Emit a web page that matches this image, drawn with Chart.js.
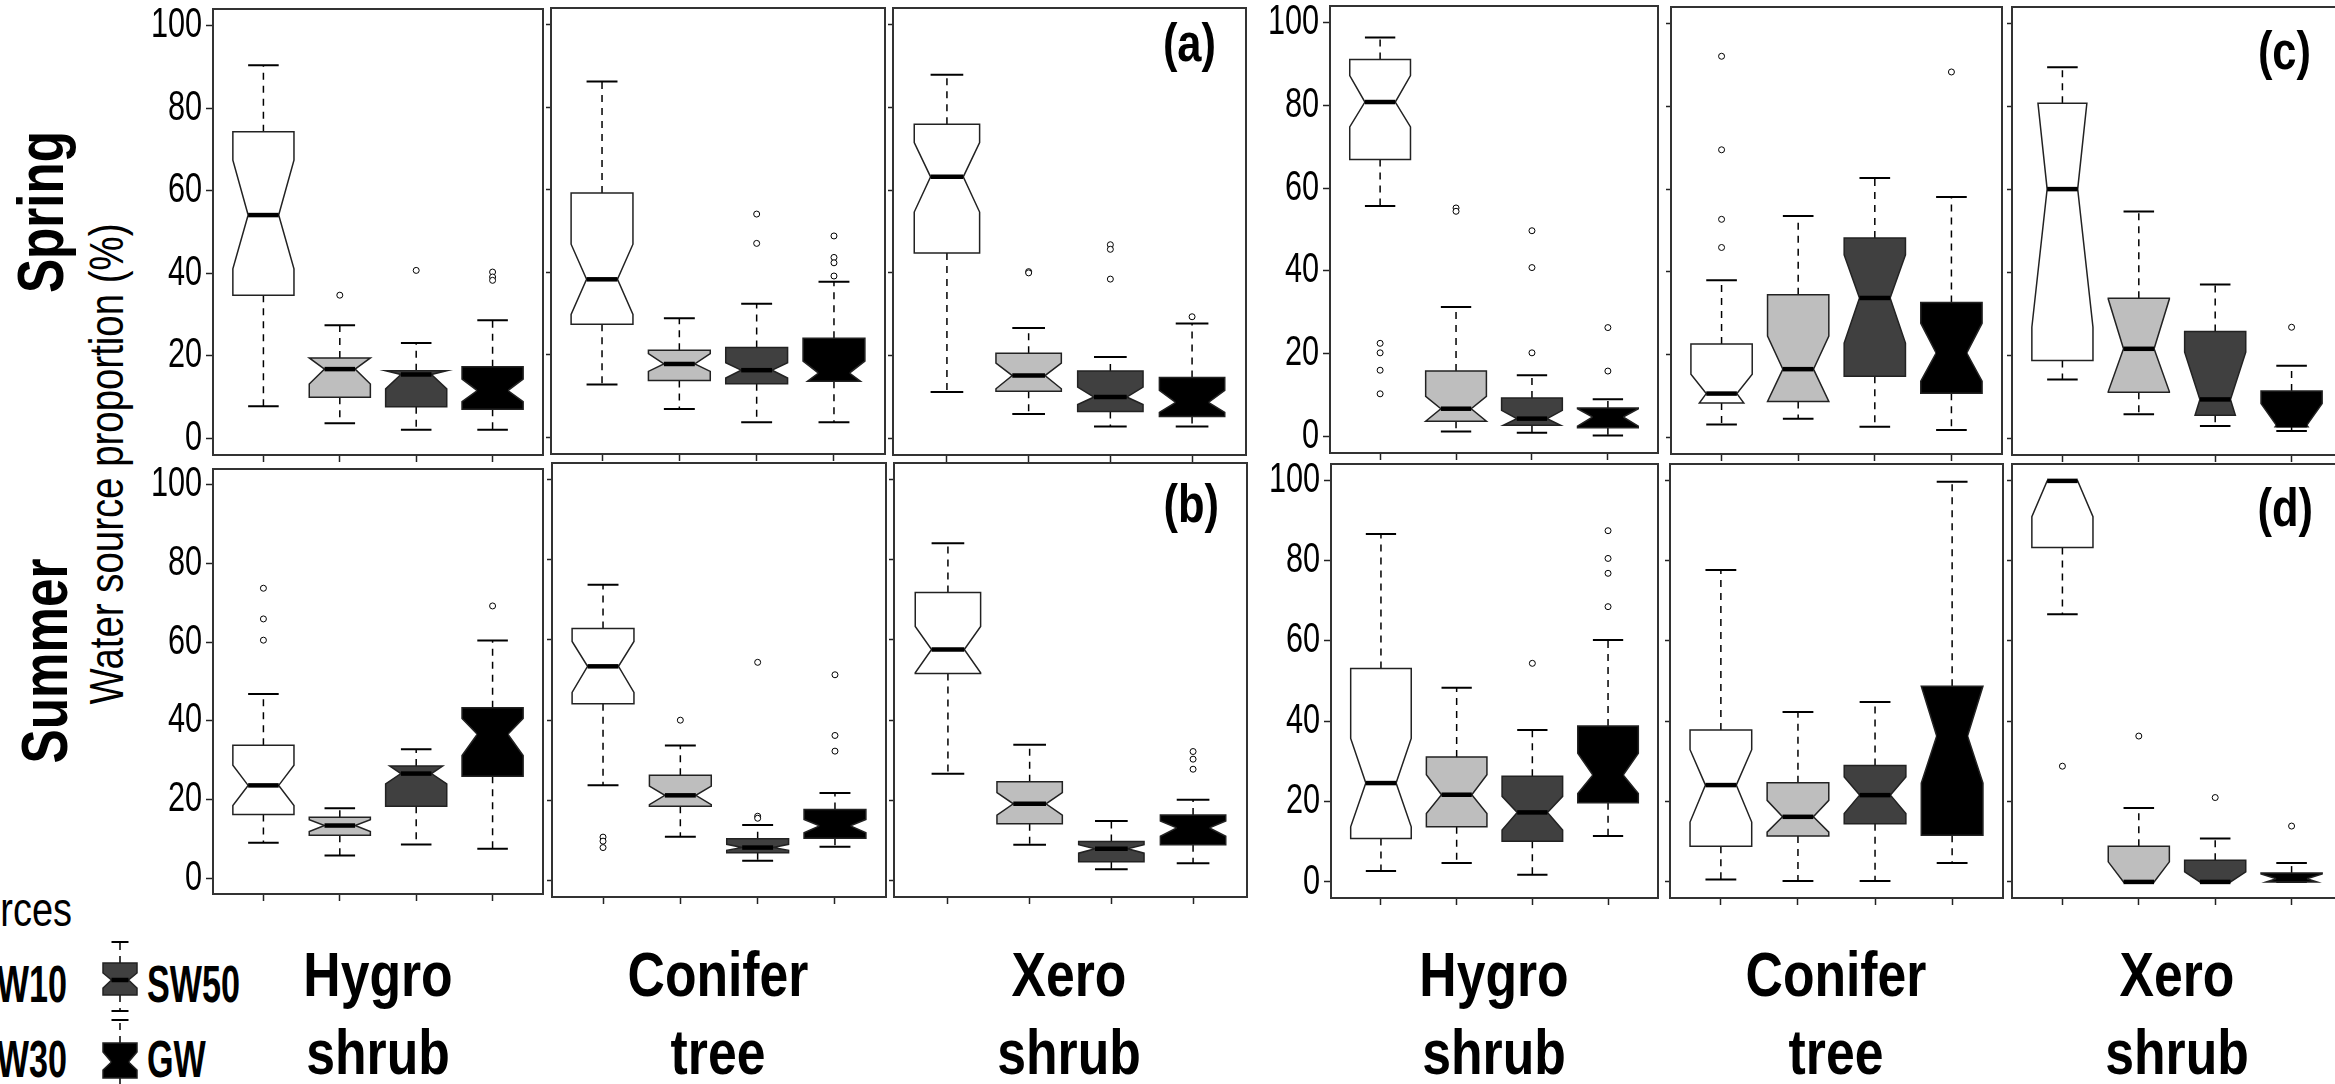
<!DOCTYPE html>
<html>
<head>
    <meta charset="utf-8">
    <title>Water source proportion</title>
    <script src="https://cdn.jsdelivr.net/npm/chart.js"></script>
    <style>
        body {
            margin: 0;
            width: 2335px;
            height: 1084px;
            overflow: hidden;
            position: relative;
            background: #fff;
            font-family: 'Liberation Sans', Arial, sans-serif;
        }
        .panel { position: absolute; }
        .txt {
            position: absolute;
            white-space: nowrap;
            color: #000;
            line-height: 1;
        }
        .bold { font-weight: bold; }
        /* condensed lettering: squeeze along the text direction */
        .rot { transform: translate(-50%, -50%) rotate(-90deg) scaleX(var(--sx)); }
        .l { transform-origin: 0 0; transform: scaleX(var(--sx)); }
        .r { transform-origin: 100% 0; transform: translateX(-100%) scaleX(var(--sx)); }
        .cat {
            position: absolute;
            top: 935px;
            transform: translateX(-50%) scaleX(0.82);
            text-align: center;
            font-size: 63px;
            line-height: 78px;
            font-weight: bold;
            white-space: nowrap;
        }
    </style>
</head>
<body>
    <!-- row / axis titles -->
    <div class="txt bold rot" style="--sx:0.8; left:41px; top:212px; font-size:64px;">Spring</div>
    <div class="txt bold rot" style="--sx:0.8; left:45px; top:661px; font-size:64px;">Summer</div>
    <div class="txt rot" style="--sx:0.8; left:107px; top:464px; font-size:48px;">Water source proportion (%)</div>

    <!-- plant group labels -->
    <div class="cat" style="left:378px;">Hygro<br>shrub</div>
    <div class="cat" style="left:718px;">Conifer<br>tree</div>
    <div class="cat" style="left:1069px;">Xero<br>shrub</div>
    <div class="cat" style="left:1494px;">Hygro<br>shrub</div>
    <div class="cat" style="left:1836px;">Conifer<br>tree</div>
    <div class="cat" style="left:2177px;">Xero<br>shrub</div>

    <!-- panel letters -->
    <div class="txt bold r" style="--sx:0.82; left:1216px; top:16px; font-size:53px;">(a)</div>
    <div class="txt bold r" style="--sx:0.82; left:1219px; top:477px; font-size:53px;">(b)</div>
    <div class="txt bold r" style="--sx:0.82; left:2311px; top:24px; font-size:53px;">(c)</div>
    <div class="txt bold r" style="--sx:0.82; left:2313px; top:481px; font-size:53px;">(d)</div>

    <!-- legend -->
    <div class="txt r" style="--sx:0.79; left:72px; top:886px; font-size:48px;">Water sources</div>
    <div class="txt bold r" style="--sx:0.67; left:67px; top:959px; font-size:51px;">SW10</div>
    <div class="txt bold r" style="--sx:0.67; left:67px; top:1034px; font-size:51px;">SW30</div>
    <div class="txt bold l" style="--sx:0.67; left:147px; top:959px; font-size:51px;">SW50</div>
    <div class="txt bold l" style="--sx:0.67; left:147px; top:1034px; font-size:51px;">GW</div>
    <canvas id="legendKey" width="60" height="154" style="position:absolute; left:90px; top:930px;"></canvas>

    <script>
        // water sources, one box per source in every panel
        const sources = ['SW10', 'SW30', 'SW50', 'GW'];
        const yTicks = [0, 20, 40, 60, 80, 100];

        // each box: [lower whisker, Q1, notch low, median, notch high, Q3, upper whisker]
        // (a) spring
        const a_hygro = [[7.8, 34.7, 41.1, 54.1, 67.4, 74.3, 90.4], [3.7, 10.0, 13.2, 16.8, 19.5, 19.5, 27.4], [2.1, 7.7, 12.0, 15.5, 16.4, 16.4, 23.1], [2.1, 7.1, 8.9, 11.6, 14.4, 17.4, 28.6]];
        const a_conifer = [[12.8, 27.4, 29.8, 38.3, 46.8, 59.2, 86.2], [6.9, 13.8, 16.0, 17.8, 20.3, 21.1, 28.9], [3.7, 13.0, 14.4, 16.3, 18.1, 21.8, 32.4], [3.7, 13.6, 12.8, 15.6, 18.5, 24.0, 37.7]];
        const a_xero = [[11.2, 44.8, 54.7, 63.2, 71.5, 75.9, 87.9], [5.9, 11.4, 12.0, 15.2, 18.2, 20.6, 26.7], [2.9, 6.5, 8.2, 10.0, 12.4, 16.3, 19.7], [2.9, 5.3, 6.3, 8.7, 11.6, 14.7, 27.8]];
        // (b) summer
        const b_hygro = [[9.0, 16.2, 18.5, 23.6, 28.7, 33.8, 46.8], [5.8, 10.9, 11.9, 13.4, 14.9, 15.5, 17.8], [8.6, 18.3, 24.0, 26.6, 29.2, 28.5, 32.8], [7.5, 25.9, 31.2, 36.6, 40.6, 43.3, 60.4]];
        const b_conifer = [[23.8, 44.1, 46.9, 53.4, 59.6, 62.8, 73.7], [11.0, 18.6, 19.0, 21.3, 23.6, 26.3, 33.7], [5.0, 7.0, 7.6, 8.3, 9.1, 10.5, 13.9], [8.5, 10.6, 12.0, 13.7, 15.3, 17.8, 21.9]];
        const b_xero = [[26.7, 51.6, 51.8, 57.6, 63.3, 71.8, 84.0], [9.0, 14.2, 16.4, 19.2, 22.0, 24.7, 33.9], [2.9, 4.8, 6.9, 8.0, 9.0, 9.8, 14.9], [4.4, 9.0, 11.1, 13.2, 14.9, 16.4, 20.2]];
        // (c) spring
        const c_hygro = [[55.7, 66.9, 74.8, 80.8, 87.2, 91.1, 96.4], [1.2, 3.7, 3.7, 6.7, 9.7, 15.8, 31.3], [0.9, 2.7, 2.5, 4.3, 6.3, 9.3, 14.8], [0.2, 2.1, 2.5, 4.7, 6.7, 6.9, 9.0]];
        const c_conifer = [[3.1, 8.3, 5.5, 10.6, 15.3, 22.6, 38.0], [4.5, 8.7, 8.7, 16.5, 24.5, 34.5, 53.5], [2.6, 14.8, 22.8, 33.7, 44.1, 48.2, 62.7], [1.8, 10.7, 13.6, 20.4, 27.6, 32.6, 58.1]];
        const c_xero = [[14.2, 18.8, 26.8, 60.1, 94.6, 80.8, 89.5], [5.8, 11.1, 11.3, 21.6, 33.6, 33.8, 54.7], [3.0, 5.6, -2.5, 9.4, 20.8, 25.8, 37.1], [1.8, 2.8, -2.0, 3.2, 8.4, 11.4, 17.5]];
        // (d) summer
        const d_hygro = [[2.7, 10.8, 13.7, 24.6, 35.7, 53.1, 86.6], [4.7, 13.7, 17.0, 21.7, 26.7, 31.1, 48.3], [1.8, 10.1, 12.9, 17.3, 21.3, 26.3, 37.8], [11.4, 19.7, 22.0, 26.6, 32.0, 38.8, 60.2]];
        const d_conifer = [[0.6, 8.9, 14.9, 24.1, 32.9, 37.8, 77.6], [0.2, 11.4, 12.4, 16.2, 20.3, 24.7, 42.3], [0.2, 14.5, 17.0, 21.6, 26.1, 29.0, 44.8], [4.7, 11.6, 24.6, 36.3, 48.7, 48.7, 99.6]];
        const d_xero = [[66.6, 83.2, 90.9, 99.8, 108.0, 99.8, 99.8], [0, 0, -5.0, 0, 5.0, 8.9, 18.4], [0, 0, -2.5, 0, 2.5, 5.4, 10.8], [0, 0, -0.4, 0.8, 2.0, 2.2, 4.7]];

        // outlying observations per source
        const a_hygroOut = [[], [34.7], [40.7], [40.3, 39.1, 38.3]];
        const a_coniferOut = [[], [], [54.1, 47.0], [48.8, 43.6, 42.3, 39.1]];
        const a_xeroOut = [[], [40.3, 40.0], [46.8, 45.7, 38.5], [29.4]];
        const b_hygroOut = [[73.7, 65.9, 60.5], [], [], [69.2]];
        const b_coniferOut = [[10.9, 9.9, 8.3], [40.0], [54.4, 16.1, 15.6], [51.3, 36.2, 32.3]];
        const b_xeroOut = [[], [], [], [32.2, 30.3, 27.8]];
        const c_hygroOut = [[22.5, 20.2, 16.0, 10.3], [55.2, 54.4], [49.7, 40.8, 20.2], [26.3, 15.8]];
        const c_coniferOut = [[92.1, 69.5, 52.7, 45.9], [], [], [88.3]];
        const c_xeroOut = [[], [], [], [26.8]];
        const d_hygroOut = [[], [], [54.4], [87.4, 80.5, 76.8, 68.5]];
        const d_coniferOut = [[], [], [], []];
        const d_xeroOut = [[28.8], [36.3], [21.0], [13.9]];

        const FILLS = ['#ffffff', '#bebebe', '#404040', '#000000'];
        const PAD_TOP = 2, PAD_RIGHT = 3, X_AXIS_H = 10;
        const LABEL_SQUEEZE = 0.73;

        // notched box outline; notches running past the hinges are cut at the hinge
        function boxPath(ctx, cx, w, px, s) {
            const [lo, q1, nlo, med, nhi, q3, hi] = s;
            const w2 = w / 2;
            const wTop = nhi > q3 ? w2 + w2 * (q3 - med) / (nhi - med) : w;
            const wBot = nlo < q1 ? w2 + w2 * (med - q1) / (med - nlo) : w;
            const pts = [[-wBot, q1], [wBot, q1]];
            if (nlo > q1) pts.push([w, nlo]);
            pts.push([w2, med]);
            if (nhi < q3) pts.push([w, nhi]);
            pts.push([wTop, q3], [-wTop, q3]);
            if (nhi < q3) pts.push([-w, nhi]);
            pts.push([-w2, med]);
            if (nlo > q1) pts.push([-w, nlo]);
            ctx.beginPath();
            pts.forEach(([dx, v], k) => k ? ctx.lineTo(cx + dx, px(v)) : ctx.moveTo(cx + dx, px(v)));
            ctx.closePath();
        }

        function drawBox(ctx, cx, w, px, s, fill) {
            const [lo, q1, nlo, med, nhi, q3, hi] = s;
            const w2 = w / 2;
            ctx.save();
            ctx.strokeStyle = '#000';
            ctx.lineWidth = 1.5;
            ctx.setLineDash([7, 6]);
            ctx.beginPath();
            ctx.moveTo(cx, px(q3)); ctx.lineTo(cx, px(hi));
            ctx.moveTo(cx, px(q1)); ctx.lineTo(cx, px(lo));
            ctx.stroke();
            ctx.setLineDash([]);
            ctx.lineWidth = 2;
            ctx.beginPath();
            ctx.moveTo(cx - w2, px(hi)); ctx.lineTo(cx + w2, px(hi));
            ctx.moveTo(cx - w2, px(lo)); ctx.lineTo(cx + w2, px(lo));
            ctx.stroke();
            boxPath(ctx, cx, w, px, s);
            ctx.fillStyle = fill;
            ctx.fill();
            ctx.lineWidth = 1.5;
            ctx.strokeStyle = '#222';
            ctx.stroke();
            ctx.lineWidth = 4.5;
            ctx.strokeStyle = '#000';
            ctx.beginPath();
            ctx.moveTo(cx - w2, px(med)); ctx.lineTo(cx + w2, px(med));
            ctx.stroke();
            ctx.restore();
        }

        // draws the boxes through the chart scales, then the panel frame
        function boxLayer(stats) {
            return {
                id: 'notchedBoxes',
                beforeDatasetsDraw(chart) {
                    const { ctx, scales: { x, y } } = chart;
                    const px = v => y.getPixelForValue(v);
                    stats.forEach((s, i) => {
                        const cx = x.getPixelForValue(i + 1);
                        const w = x.getPixelForValue(i + 1.4) - cx;   // boxwex 0.8
                        drawBox(ctx, cx, w, px, s, FILLS[i]);
                    });
                },
                afterDraw(chart) {
                    const { ctx, chartArea: a } = chart;
                    ctx.save();
                    ctx.strokeStyle = '#333';
                    ctx.lineWidth = 2;
                    ctx.strokeRect(a.left, a.top, a.right - a.left, a.bottom - a.top);
                    ctx.restore();
                }
            };
        }

        // tick labels are set in a condensed face: squeeze them towards the axis
        function squeezeLabels(scale) {
            if (scale._squeezed) return;
            const base = scale.drawLabels;
            scale.drawLabels = function (area) {
                const ctx = this.ctx, xr = this.right;
                ctx.save();
                ctx.translate(xr, 0);
                ctx.scale(LABEL_SQUEEZE, 1);
                ctx.translate(-xr, 0);
                base.call(this, area);
                ctx.restore();
            };
            scale._squeezed = true;
        }

        function addPanel(frame, stats, outliers, withLabels) {
            const [l, t, r, b] = frame;
            const yw = withLabels ? 100 : 8;
            const div = document.createElement('div');
            div.className = 'panel';
            div.style.left = (l - yw) + 'px';
            div.style.top = (t - PAD_TOP) + 'px';
            const canvas = document.createElement('canvas');
            canvas.width = r - l + yw + PAD_RIGHT;
            canvas.height = b - t + PAD_TOP + X_AXIS_H;
            div.appendChild(canvas);
            document.body.appendChild(div);

            const points = outliers.flatMap((vals, i) => vals.map(v => ({ x: i + 1, y: v })));

            new Chart(canvas, {
                type: 'scatter',
                data: {
                    datasets: [{
                        label: 'outliers',
                        data: points,
                        pointStyle: 'circle',
                        pointRadius: 3,
                        pointBorderWidth: 1,
                        pointBackgroundColor: '#fff',
                        pointBorderColor: '#000'
                    }]
                },
                options: {
                    responsive: false,
                    animation: false,
                    events: [],
                    layout: { padding: { top: PAD_TOP, right: PAD_RIGHT, left: 0, bottom: 0 }, autoPadding: false },
                    plugins: { legend: { display: false }, tooltip: { enabled: false } },
                    scales: {
                        x: {
                            type: 'linear',
                            min: 0.34,
                            max: 4.66,
                            afterBuildTicks: s => { s.ticks = sources.map((_, i) => ({ value: i + 1 })); },
                            ticks: { display: false, autoSkip: false },
                            grid: { drawOnChartArea: false, tickLength: 7, tickWidth: 1.5, tickColor: '#222' },
                            border: { display: false },
                            afterFit: s => { s.height = X_AXIS_H; s.paddingLeft = 0; s.paddingRight = 0; }
                        },
                        y: {
                            type: 'linear',
                            min: -4,
                            max: 104,
                            afterBuildTicks: s => { s.ticks = yTicks.map(v => ({ value: v })); },
                            ticks: {
                                display: withLabels,
                                autoSkip: false,
                                color: '#000',
                                padding: 8,
                                font: { family: "'Liberation Sans', Arial, sans-serif", size: 42 }
                            },
                            grid: { drawOnChartArea: false, tickLength: withLabels ? 7 : 5, tickWidth: 1.5, tickColor: '#222' },
                            border: { display: false },
                            afterFit: s => {
                                s.width = yw;
                                s.paddingTop = 0;
                                s.paddingBottom = 0;
                                if (withLabels) squeezeLabels(s);
                            }
                        }
                    }
                },
                plugins: [boxLayer(stats)]
            });
        }

        // spring row
        addPanel([213, 9, 543, 455], a_hygro, a_hygroOut, true);
        addPanel([551, 8, 885, 454], a_conifer, a_coniferOut, false);
        addPanel([893, 8, 1246, 455], a_xero, a_xeroOut, false);
        addPanel([1330, 6, 1658, 453], c_hygro, c_hygroOut, true);
        addPanel([1671, 7, 2002, 454], c_conifer, c_coniferOut, false);
        addPanel([2012, 7, 2342, 455], c_xero, c_xeroOut, false);
        // summer row
        addPanel([213, 469, 543, 894], b_hygro, b_hygroOut, true);
        addPanel([552, 463, 886, 897], b_conifer, b_coniferOut, false);
        addPanel([894, 463, 1247, 897], b_xero, b_xeroOut, false);
        addPanel([1331, 464, 1658, 898], d_hygro, d_hygroOut, true);
        addPanel([1670, 464, 2003, 898], d_conifer, d_coniferOut, false);
        addPanel([2012, 464, 2342, 898], d_xero, d_xeroOut, false);

        // legend key glyphs (SW50 dark, GW black), measured upward from the key's bottom edge
        const key = document.getElementById('legendKey').getContext('2d');
        const keyPx = v => 154 - v;
        drawBox(key, 30, 17, keyPx, [73, 89, 96, 104, 111, 121, 142], FILLS[2]);
        drawBox(key, 30, 17, keyPx, [-16, 6, 14, 22, 32, 41, 64], FILLS[3]);
    </script>
</body>
</html>
